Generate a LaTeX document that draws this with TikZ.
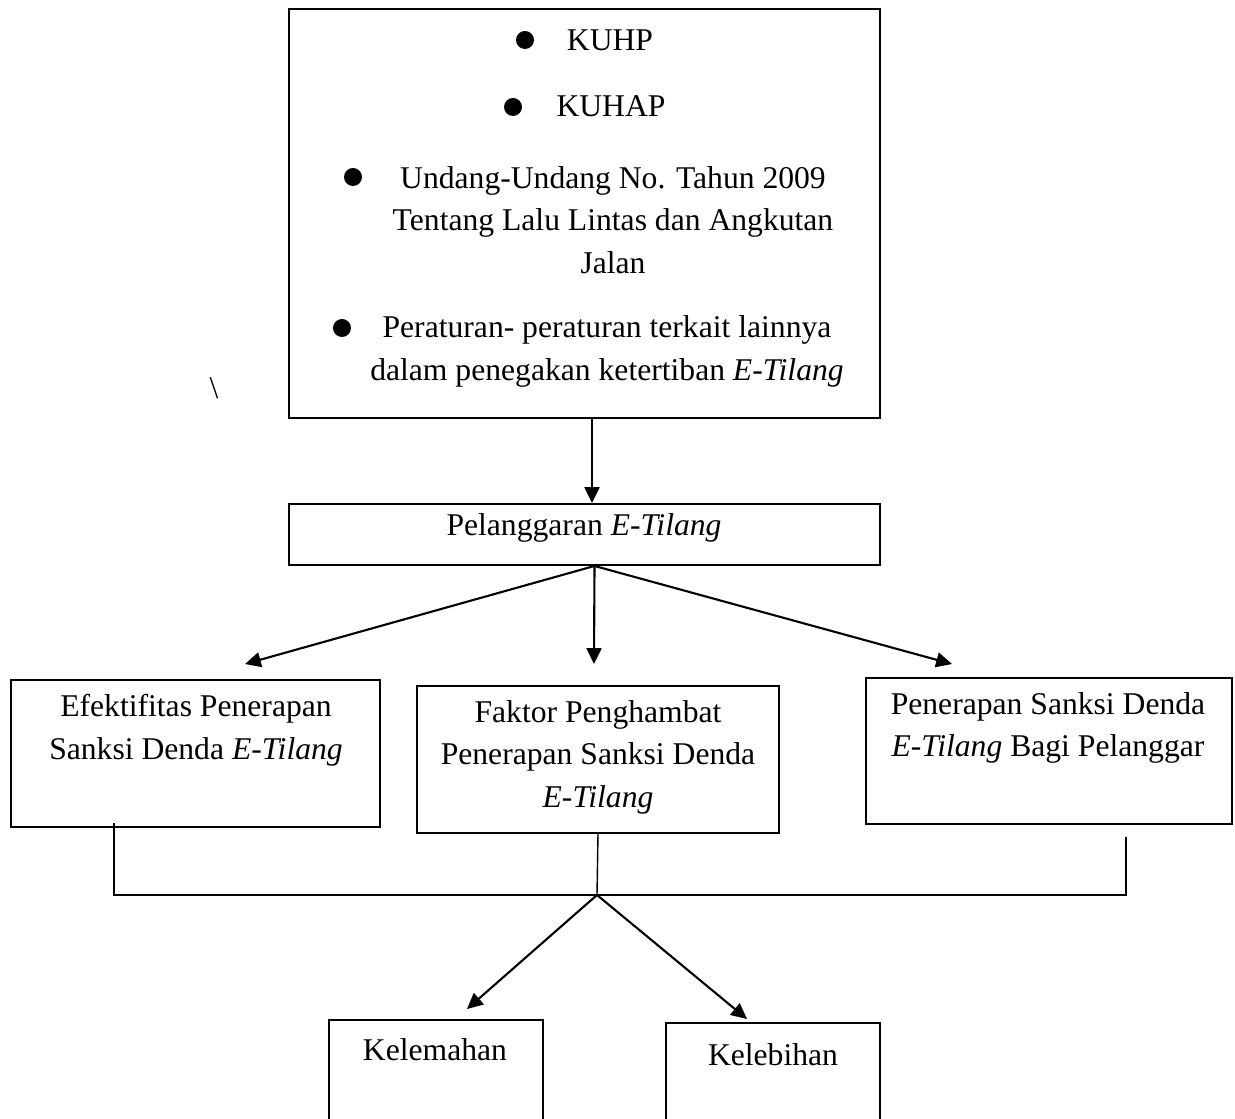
\documentclass[tikz,border=0pt]{standalone}
\usepackage{fontspec}
\setmainfont{Liberation Serif}
\usetikzlibrary{arrows.meta}
\tikzset{
    box/.style={draw, line width=1.1pt, inner sep=0pt},
    txt/.style={align=center, font=\fontsize{18}{24.2}\selectfont, inner sep=0pt},
    arr/.style={line width=1.2pt, -{Triangle[length=9pt, width=8.5pt]}}
}
\begin{document}
\begin{tikzpicture}
        \useasboundingbox (0, 0) rectangle (24.7, 22.36);
        \clip (0, 0) rectangle (24.7, 22.36);

        \node[box, minimum width=11.82cm, minimum height=8.18cm] (dasar) at (11.69, 18.09) {};
        \node[txt] (kuhp) at (12.2, 21.56) {KUHP};
        \node[txt] (kuhap) at (12.22, 20.24) {KUHAP};
        \node[txt] (uu) at (12.26, 17.96) {Undang-Undang No. Tahun 2009\\Tentang Lalu Lintas dan Angkutan\\Jalan};
        \node[txt] (aturan) at (12.14, 15.33) {Peraturan- peraturan terkait lainnya\\dalam penegakan ketertiban \textit{E-Tilang}};
        \foreach \x/\y in {10.5/21.56, 10.26/20.22, 7.06/18.82, 6.84/15.8}
            \fill (\x, \y) circle (0.18);
        \node[txt] (miring) at (4.28, 14.6) {\textbackslash};

        \node[box, minimum width=11.82cm, minimum height=1.22cm] (langgar) at (11.69, 11.67) {};
        \node[txt] (langgarT) at (11.68, 11.8) {Pelanggaran \textit{E-Tilang}};

        \node[box, minimum width=7.38cm, minimum height=2.94cm] (efektif) at (3.91, 7.29) {};
        \node[txt] (efektifT) at (3.92, 7.76) {Efektifitas Penerapan\\Sanksi Denda \textit{E-Tilang}};
        \node[box, minimum width=7.24cm, minimum height=2.94cm] (hambat) at (11.96, 7.17) {};
        \node[txt] (hambatT) at (11.96, 7.22) {Faktor Penghambat\\Penerapan Sanksi Denda\\\textit{E-Tilang}};
        \node[box, minimum width=7.32cm, minimum height=2.92cm] (sanksi) at (20.98, 7.34) {};
        \node[txt] (sanksiT) at (20.96, 7.8) {Penerapan Sanksi Denda\\\textit{E-Tilang} Bagi Pelanggar};

        \node[box, minimum width=4.28cm, minimum height=2.6cm] (lemah) at (8.72, 0.66) {};
        \node[txt] (lemahT) at (8.7, 1.36) {Kelemahan};
        \node[box, minimum width=4.28cm, minimum height=2.6cm] (lebih) at (15.46, 0.6) {};
        \node[txt] (lebihT) at (15.46, 1.26) {Kelebihan};

        \coordinate (hub) at (11.94, 4.46);

        \draw[arr] ([xshift=0.15cm]dasar.south) -- ([xshift=0.15cm]langgar.north);
        \draw[arr] ([xshift=0.2cm]langgar.south) -- ([xshift=0.99cm, yshift=0.3cm]efektif.north);
        \draw[arr] ([xshift=0.2cm]langgar.south) -- ([xshift=-0.08cm, yshift=0.42cm]hambat.north);
        \draw[arr] ([xshift=0.2cm]langgar.south) -- ([xshift=-1.94cm, yshift=0.26cm]sanksi.north);

        \draw[line width=0.8pt] ([xshift=-1.63cm, yshift=0.1cm]efektif.south) |- (hub) -| ([xshift=1.54cm, yshift=-0.24cm]sanksi.south);
        \draw[line width=0.8pt] (hambat.south) -- (hub);

        \draw[arr] (hub) -- ([xshift=0.62cm, yshift=0.2cm]lemah.north);
        \draw[arr] (hub) -- ([xshift=-0.52cm, yshift=0.06cm]lebih.north);
    \end{tikzpicture}
\end{document}
